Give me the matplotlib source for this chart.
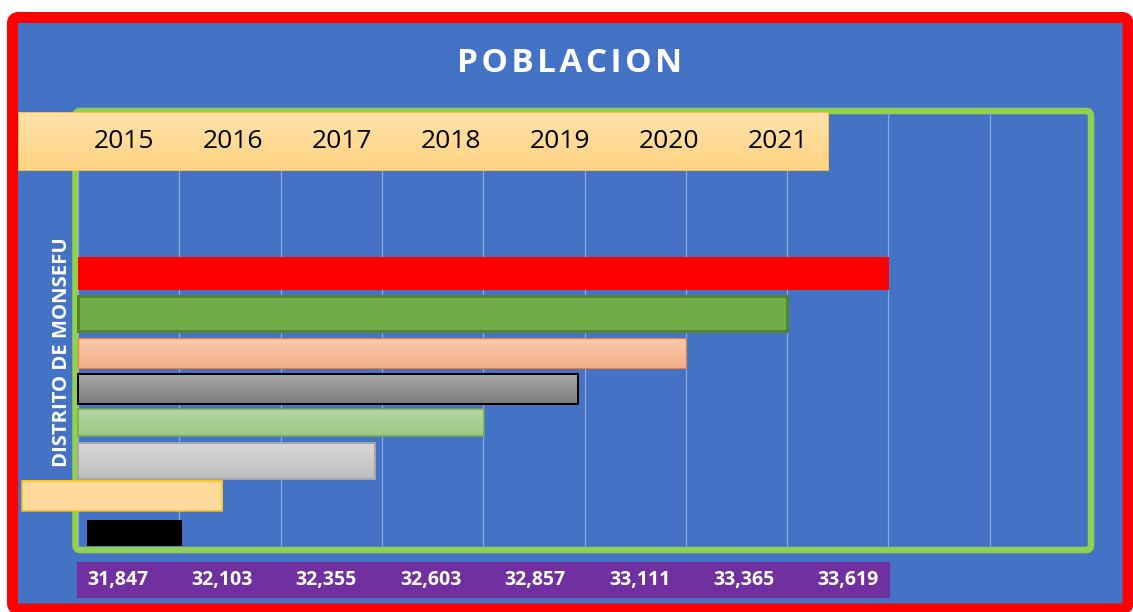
import numpy as np
import matplotlib
matplotlib.use("Agg")
import matplotlib.pyplot as plt
from matplotlib.patches import FancyBboxPatch, Rectangle, Patch

# ---------------- data ----------------
years = ["2015", "2016", "2017", "2018", "2019", "2020", "2021"]
# bars from bottom to top
population = [31847, 32103, 32355, 32603, 32857, 33111, 33365, 33619]
axis_min = 31586
grid_step = 254
n_grid = 10
title = "POBLACION"
y_title = "DISTRITO DE MONSEFU"

# ---------------- styles ----------------
bar_top = ["#000000", "#FFDA9C", "#D9D9D9", "#B6D8A2", "#A8A8A8", "#F8CDB0", "#70AD47", "#FF0000"]
bar_bot = ["#000000", "#FFD486", "#BDBDBD", "#9CC986", "#7C7C7C", "#F3AE86", "#70AD47", "#FF0000"]
bar_edge = ["none", "#FFC000", "#A5A5A5", "#70AD47", "#000000", "#ED7D31", "#548235", "none"]
bar_lw_px = [0, 1.5, 2, 1.5, 2, 1.2, 3, 0]
bar_h = [0.70, 0.81, 0.97, 0.73, 0.80, 0.83, 0.96, 0.89]
bar_off = [0.0, 0.0, -0.06, -0.02, -0.11, -0.15, -0.09, -0.01]
start_shift = [22, -140, 0, 0, 0, 0, 0, 0]    # start of bar relative to axis
end_shift = [0, -155, -24, 0, -17, 0, 0, 0]   # drawn end relative to value

BLUE = "#4472C4"
W, H = 1133, 612
PT = 0.72  # points per pixel at dpi 100

fig = plt.figure(figsize=(W / 100, H / 100), dpi=100)
fig.patch.set_facecolor("white")


def fx(px):
    return px / W


def fy(py):
    return 1 - py / H


# ---------- background layer ----------
bg = fig.add_axes([0, 0, 1, 1], zorder=0)
bg.set_xlim(0, W)
bg.set_ylim(H, 0)
bg.axis("off")
bg.add_patch(FancyBboxPatch((12.5, 17.5), 1128 - 12.5, 609 - 17.5,
                            boxstyle="round,pad=0,rounding_size=6",
                            facecolor=BLUE, edgecolor="#FF0000", linewidth=11 * PT))
# green plot frame
bg.add_patch(FancyBboxPatch((75.5, 111), 1091 - 75.5, 550 - 111,
                            boxstyle="round,pad=0,rounding_size=5",
                            facecolor="none", edgecolor="#92D050", linewidth=6.5 * PT))

# ---------- main axes ----------
ax = fig.add_axes([fx(78), fy(548), fx(1091) - fx(78), (548 - 112) / H], zorder=1)
ax.set_facecolor("none")
xmax = axis_min + n_grid * grid_step
ax.set_xlim(axis_min, xmax)
ylo, yhi = -0.40, 11.34
ax.set_ylim(ylo, yhi)
ax.set_xticks([axis_min + k * grid_step for k in range(n_grid + 1)])
ax.grid(axis="x", color="#8EA9DB", linewidth=1.2 * PT, zorder=0)
ax.tick_params(length=0, labelbottom=False, labelleft=False)
ax.set_yticks([])
for s in ax.spines.values():
    s.set_visible(False)

ypos = np.arange(len(population)) + np.array(bar_off)
for i, v in enumerate(population):
    left = axis_min + start_shift[i]
    width = v + end_shift[i] - left
    gradient = bar_top[i] != bar_bot[i]
    b = ax.barh(ypos[i], width, left=left, height=bar_h[i],
                color=bar_top[i] if not gradient else "none",
                edgecolor=bar_edge[i], linewidth=bar_lw_px[i] * PT,
                zorder=3, clip_on=False)[0]
    if gradient:
        c1 = np.array(matplotlib.colors.to_rgb(bar_top[i]))
        c2 = np.array(matplotlib.colors.to_rgb(bar_bot[i]))
        t = np.linspace(0, 1, 64)[:, None]
        img = (c1[None, :] * (1 - t) + c2[None, :] * t)[:, None, :]
        y0 = ypos[i] - bar_h[i] / 2
        im = ax.imshow(img, extent=(left, left + width, y0, y0 + bar_h[i]),
                       origin="upper", aspect="auto", zorder=2, interpolation="bilinear")
        if start_shift[i] < 0:
            im.set_clip_on(False)
            b.set_facecolor(bar_top[i])
        else:
            im.set_clip_path(b)
ax.set_xlim(axis_min, xmax)
ax.set_ylim(ylo, yhi)

# ---------- overlay layer ----------
top = fig.add_axes([0, 0, 1, 1], zorder=3)
top.set_xlim(0, W)
top.set_ylim(H, 0)
top.axis("off")
top.patch.set_visible(False)

# legend band with soft gradient
lb = Rectangle((18, 112), 828 - 18, 170 - 112, facecolor="none",
               edgecolor="#F2C14E", linewidth=1 * PT, zorder=2)
top.add_patch(lb)
c1 = np.array(matplotlib.colors.to_rgb("#FFE2AA"))
c2 = np.array(matplotlib.colors.to_rgb("#FFD483"))
t = np.linspace(0, 1, 64)[:, None]
gimg = (c1[None, :] * (1 - t) + c2[None, :] * t)[:, None, :]
top.imshow(gimg, extent=(18, 828, 170, 112), origin="upper", aspect="auto",
           zorder=1, interpolation="bilinear")
# purple value band
top.add_patch(Rectangle((77, 562), 890 - 77, 598 - 562, facecolor="#7030A0",
                        edgecolor="none", zorder=1))
top.set_xlim(0, W)
top.set_ylim(H, 0)

# value labels inside the purple band
band = fig.add_axes([fx(77), fy(598), fx(890) - fx(77), (598 - 562) / H], zorder=4)
band.axis("off")
band.patch.set_visible(False)
band.set_xlim(-0.39, 7.40)
band.set_ylim(0, 1)
for i, v in enumerate(population):
    band.text(i, 0.5, f"{v:,}", color="white", fontsize=14, fontweight="bold",
              family=["Open Sans", "DejaVu Sans"], ha="center", va="center")

# legend with years
handles = [Patch(facecolor="none", edgecolor="none", label=y) for y in years]
leg = fig.legend(handles=handles, loc="center", ncol=len(years),
                 bbox_to_anchor=(fx(451), fy(141)), frameon=False,
                 handlelength=0, handletextpad=0, columnspacing=1.84,
                 prop={"family": "Open Sans", "size": 19})
leg.set_zorder(6)

# title (letter-spaced) & axis title
spaced_title = "\u200a".join(title)
fig.text(fx(570), fy(64), spaced_title, color="white", fontsize=24, fontweight="bold",
         family=["Open Sans", "DejaVu Sans"], ha="center", va="center", zorder=6)
fig.text(fx(62), fy(352), y_title, color="white", fontsize=14.6, fontweight="bold",
         family=["Open Sans", "DejaVu Sans"], rotation=90, ha="center", va="center", zorder=6)

fig.savefig("out.png", dpi=100, facecolor=fig.get_facecolor())
